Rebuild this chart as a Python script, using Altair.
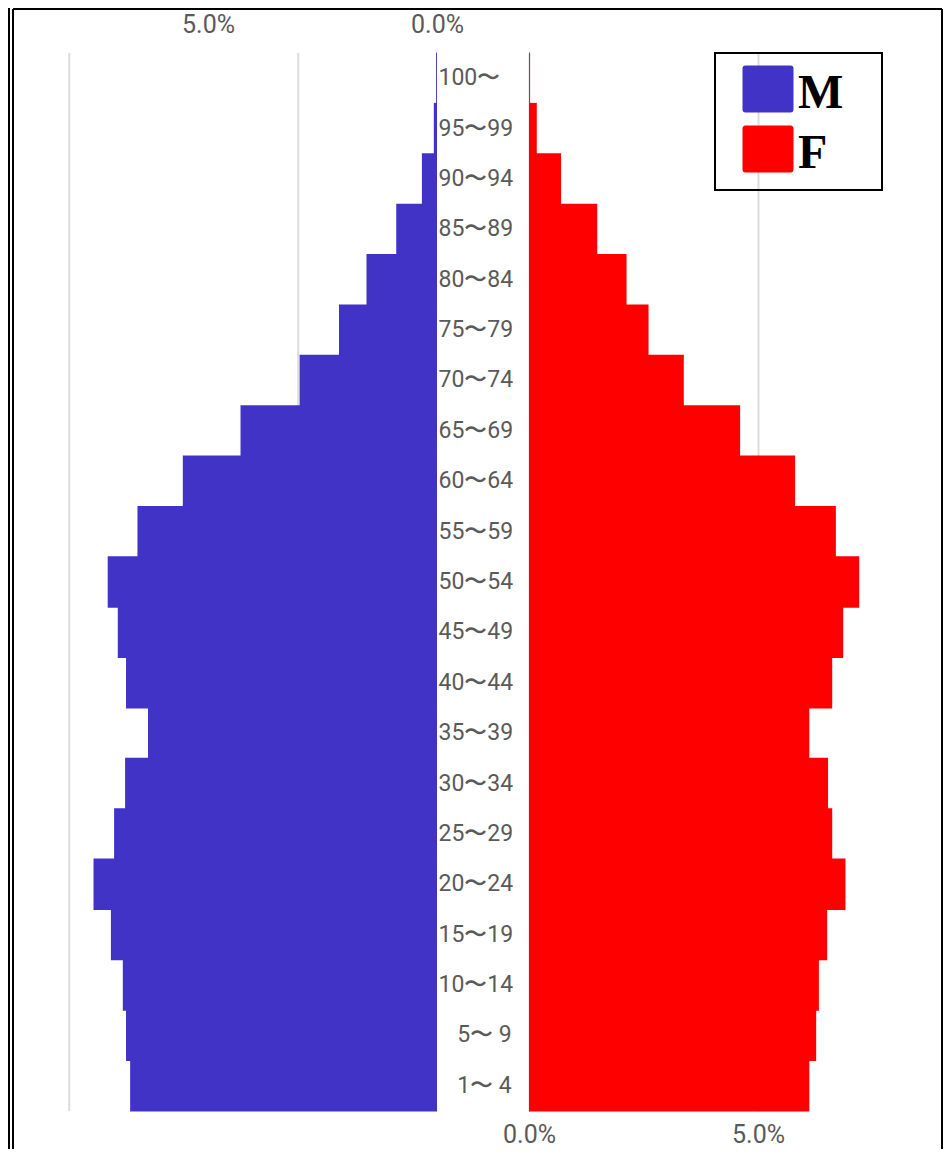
import altair as alt
import pandas as pd

# ---- data (percent of population) ----
# leading \u200b keeps the padding spaces from being trimmed
ages = ["100〜", "95〜99", "90〜94", "85〜89", "80〜84", "75〜79", "70〜74",
        "65〜69", "60〜64", "55〜59", "50〜54", "45〜49", "40〜44", "35〜39",
        "30〜34", "25〜29", "20〜24", "15〜19", "10〜14",
        "\u200b\u2007\u00a05〜\u00a09", "\u200b\u2007\u00a01〜\u00a04"]
male = [0.02, 0.07, 0.33, 0.89, 1.54, 2.14, 3.00, 4.29, 5.55, 6.54, 7.19,
        6.97, 6.79, 6.31, 6.81, 7.05, 7.50, 7.12, 6.86, 6.79, 6.70]
female = [0.02, 0.17, 0.70, 1.49, 2.13, 2.61, 3.38, 4.61, 5.81, 6.70, 7.21,
          6.86, 6.62, 6.12, 6.53, 6.62, 6.91, 6.51, 6.33, 6.27, 6.12]
tick_values = [0, 5]
male_grid = [3.03, 8.03]
sexes = ["M", "F"]
colors = ["#4233C7", "#FF0000"]

# ---- layout ----
W, H = 929, 1058
PX = 45.8          # pixels per percent
M0 = 424           # male zero inside plot
F0 = 516           # female zero inside plot
male_dom = [(M0 - W) / PX, M0 / PX]
fem_dom = [-F0 / PX, (W - F0) / PX]

df_m = pd.DataFrame({"age": ages, "value": male, "sex": "M"})
df_f = pd.DataFrame({"age": ages, "value": female, "sex": "F"})

TXT = "#5a5a5a"
GRID = "#dcdcdc"
FONT = "Roboto"

rounded = ("M-0.9,-1.14 L0.9,-1.14 Q1.02,-1.14 1.02,-1.02 L1.02,0.62 "
           "Q1.02,0.74 0.9,0.74 L-0.9,0.74 Q-1.02,0.74 -1.02,0.62 "
           "L-1.02,-1.02 Q-1.02,-1.14 -0.9,-1.14 Z")

color = alt.Color(
    "sex:N",
    scale=alt.Scale(domain=sexes, range=colors),
    legend=alt.Legend(orient="none", legendX=730, legendY=16, title=None,
                      symbolType=rounded, symbolSize=2500, symbolStrokeWidth=0,
                      symbolOpacity=1,
                      labelFont="Liberation Serif", labelFontSize=48,
                      labelFontWeight="bold", labelColor="black",
                      labelOffset=5, rowPadding=7, padding=0),
)

band = alt.Scale(paddingInner=0, paddingOuter=0)

y_axis = alt.Axis(orient="right", offset=M0 - W, labelAlign="left",
                  labelPadding=1, ticks=False, tickSize=0, domain=False,
                  grid=False, labelFont=FONT, labelFontSize=23,
                  labelColor=TXT, title=None, labelBaseline="middle")

bar_h = alt.RelativeBandSize(band=1.02)

grid_m = alt.Chart(pd.DataFrame({"g": male_grid})).mark_rule(
    color=GRID, strokeWidth=2).encode(
    x=alt.X("g:Q", scale=alt.Scale(domain=male_dom, reverse=True, nice=False,
                                   zero=False), axis=None))

male_bars = alt.Chart(df_m).mark_bar(height=bar_h).encode(
    y=alt.Y("age:N", sort=ages, scale=band, axis=None),
    x=alt.X("value:Q",
            scale=alt.Scale(domain=male_dom, reverse=True, nice=False, zero=False),
            axis=alt.Axis(orient="top", values=tick_values,
                          labelExpr="format(datum.value, '.1f') + '%'",
                          grid=False, ticks=False, tickSize=0, domain=False,
                          labelPadding=16, labelFont=FONT, labelFontSize=25,
                          labelColor=TXT, labelFlush=False, title=None)),
    color=color,
)

female_bars = alt.Chart(df_f).mark_bar(height=bar_h).encode(
    y=alt.Y("age:N", sort=ages, scale=band, axis=y_axis),
    x=alt.X("value:Q",
            scale=alt.Scale(domain=fem_dom, nice=False, zero=False),
            axis=alt.Axis(orient="bottom", values=tick_values,
                          labelExpr="format(datum.value, '.1f') + '%'",
                          grid=True, gridColor=GRID, gridWidth=2,
                          ticks=False, tickSize=0, domain=False,
                          labelPadding=11, labelFont=FONT, labelFontSize=25,
                          labelColor=TXT, labelFlush=False, title=None)),
    color=color,
)

# page frame and legend box (decoration, pixel positions)
frame_segs = pd.DataFrame({
    "x": [0, 0, W, -4],
    "x2": [W, 0, W, -4],
    "y": [-44, -44, -44, -45],
    "y2": [-44, H + 40, H + 40, H + 40],
})
frame = alt.Chart(frame_segs).mark_rule(color="black", strokeWidth=2).encode(
    x=alt.X("x:Q", scale=None, axis=None), x2="x2:Q",
    y=alt.Y("y:Q", scale=None, axis=None), y2="y2:Q")

legend_box = alt.Chart(pd.DataFrame({"x": [702], "x2": [869], "y": [0], "y2": [137]})).mark_rect(
    fillOpacity=0, stroke="black", strokeWidth=2).encode(
    x=alt.X("x:Q", scale=None, axis=None), x2="x2:Q",
    y=alt.Y("y:Q", scale=None, axis=None), y2="y2:Q")

chart = alt.layer(grid_m, male_bars, female_bars, frame, legend_box).resolve_scale(
    x="independent", y="independent").resolve_axis(x="independent", y="independent").properties(
    width=W, height=H,
    background="white",
    autosize=alt.AutoSizeParams(type="none"),
    padding={"left": 5, "top": 45, "right": 2, "bottom": 38},
).configure_view(strokeWidth=0, stroke=None)

chart.save("out.html", embed_options={"renderer": "svg", "actions": False})
